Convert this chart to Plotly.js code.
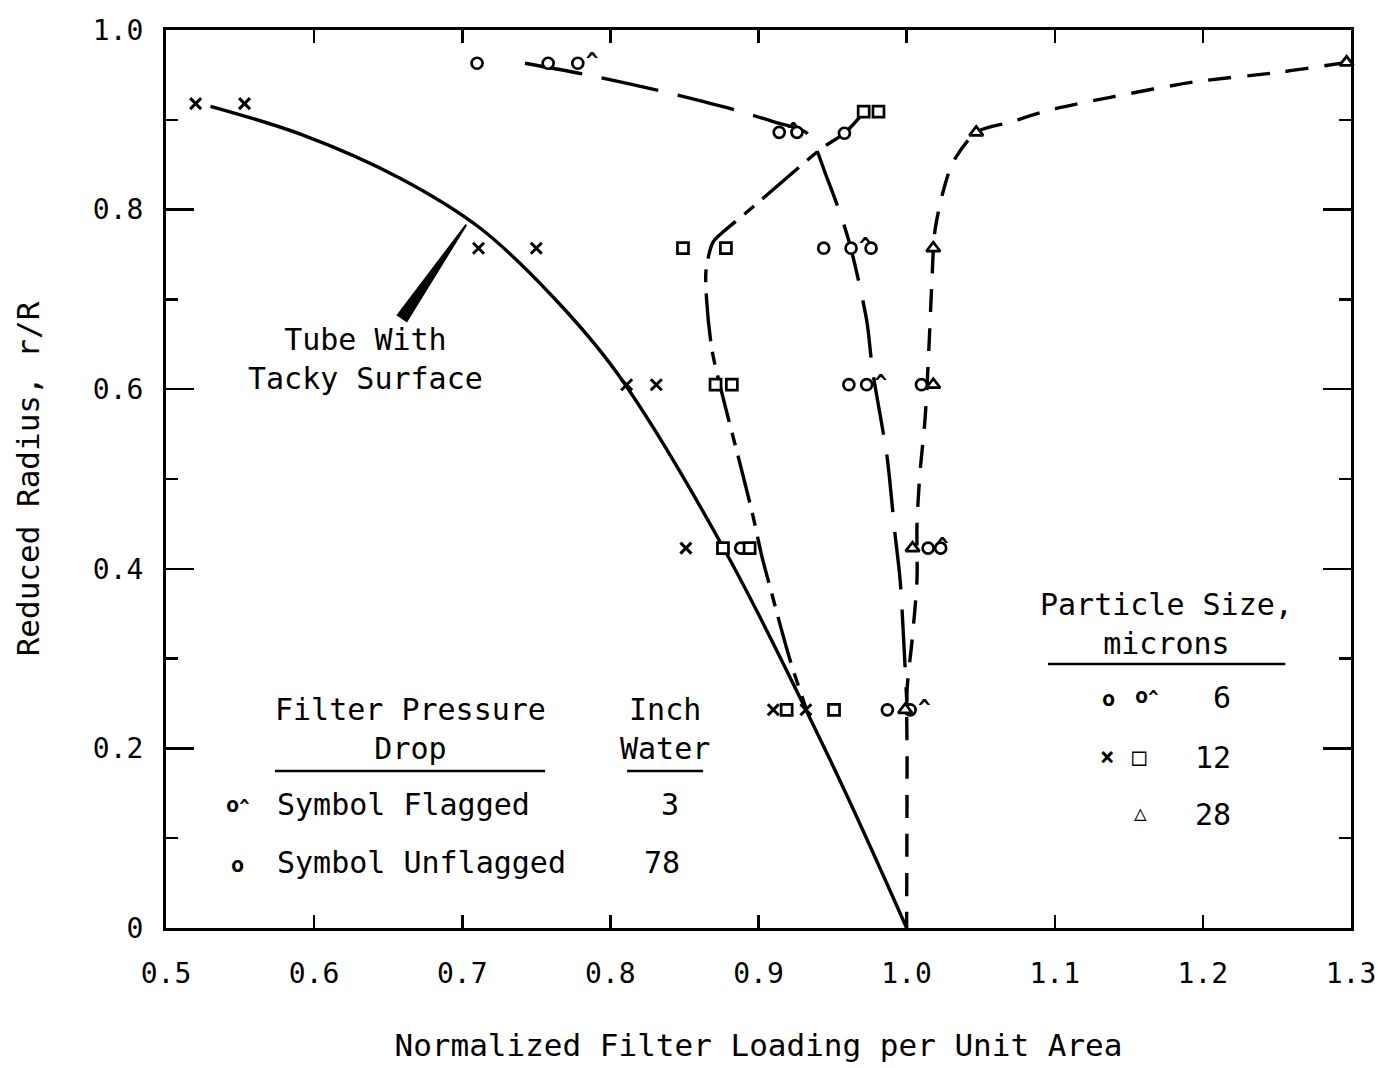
<!DOCTYPE html>
<html>
<head>
<meta charset="utf-8">
<script src="https://cdn.plot.ly/plotly-3.0.1.min.js"></script>
<style>
html,body{margin:0;padding:0;background:#fff;}
#chart{width:1378px;height:1068px;}
</style>
</head>
<body>
<div id="chart"></div>
<script>
// Axis ticks
const xTickVals = [0.5, 0.6, 0.7, 0.8, 0.9, 1.0, 1.1, 1.2, 1.3];
const xTickText = ['0.5', '0.6', '0.7', '0.8', '0.9', '1.0', '1.1', '1.2', '1.3'];
const yTickVals = [0, 0.2, 0.4, 0.6, 0.8, 1.0];
const yTickText = ['0', '0.2', '0.4', '0.6', '0.8', '1.0'];

// Tube with tacky surface (solid curve)
const tackyX = [0.530, 0.5925, 0.658, 0.712, 0.7613, 0.8045, 0.876, 0.9484, 1.0];
const tackyY = [0.915, 0.883, 0.835, 0.7795, 0.7027, 0.618, 0.4243, 0.187, 0.0];

// 6 micron curve (long dashes)
const curve6X = [0.7424, 0.7816, 0.8315, 0.884, 0.911, 0.9328, 0.9463, 0.9605, 0.973, 0.977, 0.9868, 0.992, 0.9956, 1.0003];
const curve6Y = [0.963, 0.951, 0.933, 0.911, 0.8975, 0.885, 0.835, 0.768, 0.677, 0.621, 0.5245, 0.441, 0.3875, 0.245];

// 12 micron curve (dash-dot)
const curve12X = [0.970, 0.958, 0.943, 0.9213, 0.892, 0.876, 0.8694, 0.8646, 0.865, 0.8686, 0.876, 0.8855, 0.8957, 0.9024, 0.9065, 0.9213, 0.932];
const curve12Y = [0.906, 0.885, 0.8686, 0.8385, 0.797, 0.775, 0.764, 0.733, 0.699, 0.6437, 0.591, 0.530, 0.463, 0.413, 0.3875, 0.2984, 0.245];

// 28 micron curve (short dashes)
const curve28X = [1.2974, 1.252, 1.1935, 1.1374, 1.097, 1.07, 1.047, 1.0314, 1.024, 1.019, 1.017, 1.015, 1.0125, 1.009, 1.007, 1.007, 1.0037, 1.0003, 1.0003, 1.0];
const curve28Y = [0.964, 0.953, 0.942, 0.925, 0.911, 0.8975, 0.886, 0.853, 0.816, 0.775, 0.718, 0.644, 0.568, 0.5067, 0.449, 0.3875, 0.3207, 0.265, 0.187, 0.0];

// Measured points
const circle6X = [0.710, 0.758, 0.926, 0.958, 0.944, 0.976, 0.961, 1.010, 0.888, 1.023, 0.987];
const circle6Y = [0.963, 0.963, 0.886, 0.885, 0.757, 0.757, 0.605, 0.605, 0.423, 0.423, 0.243];

const flag6X = [0.778, 0.914, 0.9625, 0.973, 1.0145, 1.0024];
const flag6Y = [0.963, 0.886, 0.757, 0.605, 0.423, 0.243];

const cross12X = [0.520, 0.553, 0.711, 0.750, 0.811, 0.831, 0.851, 0.910, 0.932];
const cross12Y = [0.918, 0.918, 0.757, 0.757, 0.605, 0.605, 0.423, 0.243, 0.243];

const square12X = [0.971, 0.981, 0.849, 0.878, 0.871, 0.882, 0.876, 0.894, 0.919, 0.951];
const square12Y = [0.909, 0.909, 0.757, 0.757, 0.605, 0.605, 0.423, 0.423, 0.243, 0.243];

const tri28X = [1.297, 1.047, 1.018, 1.018, 1.004, 0.999];
const tri28Y = [0.964, 0.886, 0.757, 0.605, 0.423, 0.243];

const FONT = 'DejaVu Sans Mono, Liberation Mono, monospace';
const INK = '#000';

const openMarker = (symbol, size) => ({
  symbol: symbol, size: size, color: '#fff',
  line: {color: INK, width: 2.7}
});

const traces = [
  {x: tackyX, y: tackyY, mode: 'lines', line: {color: INK, width: 3.4, shape: 'spline', smoothing: 1}},
  {x: curve6X, y: curve6Y, mode: 'lines', line: {color: INK, width: 3.4, shape: 'spline', smoothing: 0.8, dash: '58px,20px'}},
  {x: curve12X, y: curve12Y, mode: 'lines', line: {color: INK, width: 3.4, shape: 'spline', smoothing: 0.8, dash: '48px,11px,13px,11px'}},
  {x: curve28X, y: curve28Y, mode: 'lines', line: {color: INK, width: 3.4, shape: 'spline', smoothing: 0.8, dash: '23px,16px'}},
  {x: circle6X, y: circle6Y, mode: 'markers', marker: openMarker('circle', 11), cliponaxis: false},
  {x: flag6X, y: flag6Y, mode: 'markers+text', marker: openMarker('circle', 11),
   text: flag6X.map(() => '^'), textposition: 'middle right',
   textfont: {family: FONT, size: 21, color: INK, weight: 'bold'}, cliponaxis: false},
  {x: cross12X, y: cross12Y, mode: 'markers', marker: {symbol: 'x-thin', size: 11, line: {color: INK, width: 3}}, cliponaxis: false},
  {x: square12X, y: square12Y, mode: 'markers', marker: openMarker('square', 11), cliponaxis: false},
  {x: tri28X, y: tri28Y, mode: 'markers', marker: openMarker('triangle-up', 12), cliponaxis: false}
];

const txt = (x, y, text, opts) => Object.assign({
  x: x, y: y, xref: 'x', yref: 'y', text: text, showarrow: false,
  font: {family: FONT, size: 30, color: INK}, xanchor: 'center', yanchor: 'middle'
}, opts || {});

const sym = (x, y, text, size) => txt(x, y, text, {font: {family: FONT, size: size, color: INK, weight: 'bold'}});

const annotations = [
  txt(0.6344, 0.6336, 'Tube With<br>Tacky Surface'),
  txt(0.6648, 0.2216, 'Filter Pressure<br>Drop'),
  txt(0.8369, 0.2216, 'Inch<br>Water'),
  txt(0.5736, 0.137, 'Symbol Flagged', {xanchor: 'left'}),
  txt(0.5736, 0.0735, 'Symbol Unflagged', {xanchor: 'left'}),
  txt(0.8403, 0.137, '3'),
  txt(0.8349, 0.0735, '78'),
  sym(0.5486, 0.137, 'o<span style="font-size:17px">^</span>', 22),
  sym(0.5486, 0.0705, 'o', 22),
  txt(1.1752, 0.338, 'Particle Size,<br>microns'),
  sym(1.136, 0.256, 'o', 22),
  sym(1.162, 0.259, 'o<span style="font-size:17px">^</span>', 22),
  txt(1.213, 0.257, '6'),
  sym(1.1354, 0.19, '×', 24),
  sym(1.157, 0.19, '□', 24),
  txt(1.207, 0.19, '12'),
  sym(1.1577, 0.128, '△', 21),
  txt(1.207, 0.126, '28')
];

const shapes = [
  // underlines of the two legend tables
  {type: 'line', xref: 'x', yref: 'y', x0: 0.5736, x1: 0.7559, y0: 0.1748, y1: 0.1748, line: {color: INK, width: 2.5}},
  {type: 'line', xref: 'x', yref: 'y', x0: 0.8113, x1: 0.8626, y0: 0.1748, y1: 0.1748, line: {color: INK, width: 2.5}},
  {type: 'line', xref: 'x', yref: 'y', x0: 1.0955, x1: 1.2556, y0: 0.294, y1: 0.294, line: {color: INK, width: 2.5}},
  // tapered pointer to the tacky-surface curve
  {type: 'path', xref: 'x', yref: 'y', path: 'M 0.7026 0.783 L 0.6565 0.6825 L 0.6625 0.6758 Z',
   fillcolor: INK, line: {color: INK, width: 2}}
];

const layout = {
  width: 1378, height: 1068,
  margin: {l: 166, r: 27, t: 30, b: 140},
  paper_bgcolor: '#fff', plot_bgcolor: '#fff',
  showlegend: false,
  font: {family: FONT, color: INK},
  xaxis: {
    range: [0.5, 1.3], tickmode: 'array', tickvals: xTickVals, ticktext: xTickText,
    ticks: 'inside', ticklen: 13, tickwidth: 2.5, tickcolor: INK,
    showline: true, linewidth: 3, linecolor: INK, mirror: 'ticks',
    showgrid: false, zeroline: false,
    tickfont: {family: FONT, size: 28, color: INK}, ticklabelstandoff: 18,
    title: {text: 'Normalized Filter Loading per Unit Area', font: {family: FONT, size: 31, color: INK}, standoff: 46}
  },
  yaxis: {
    range: [0, 1], tickmode: 'array', tickvals: yTickVals, ticktext: yTickText,
    ticks: 'inside', ticklen: 28, tickwidth: 2.5, tickcolor: INK,
    minor: {tickmode: 'linear', tick0: 0, dtick: 0.1, ticks: 'inside', ticklen: 12, tickwidth: 2.5, tickcolor: INK},
    showline: true, linewidth: 3, linecolor: INK, mirror: 'ticks',
    showgrid: false, zeroline: false,
    tickfont: {family: FONT, size: 28, color: INK}, ticklabelstandoff: 14,
    title: {text: 'Reduced Radius, r/R', font: {family: FONT, size: 31, color: INK}, standoff: 44}
  },
  annotations: annotations,
  shapes: shapes
};

Plotly.newPlot('chart', traces, layout, {staticPlot: true, displayModeBar: false});
</script>
</body>
</html>
